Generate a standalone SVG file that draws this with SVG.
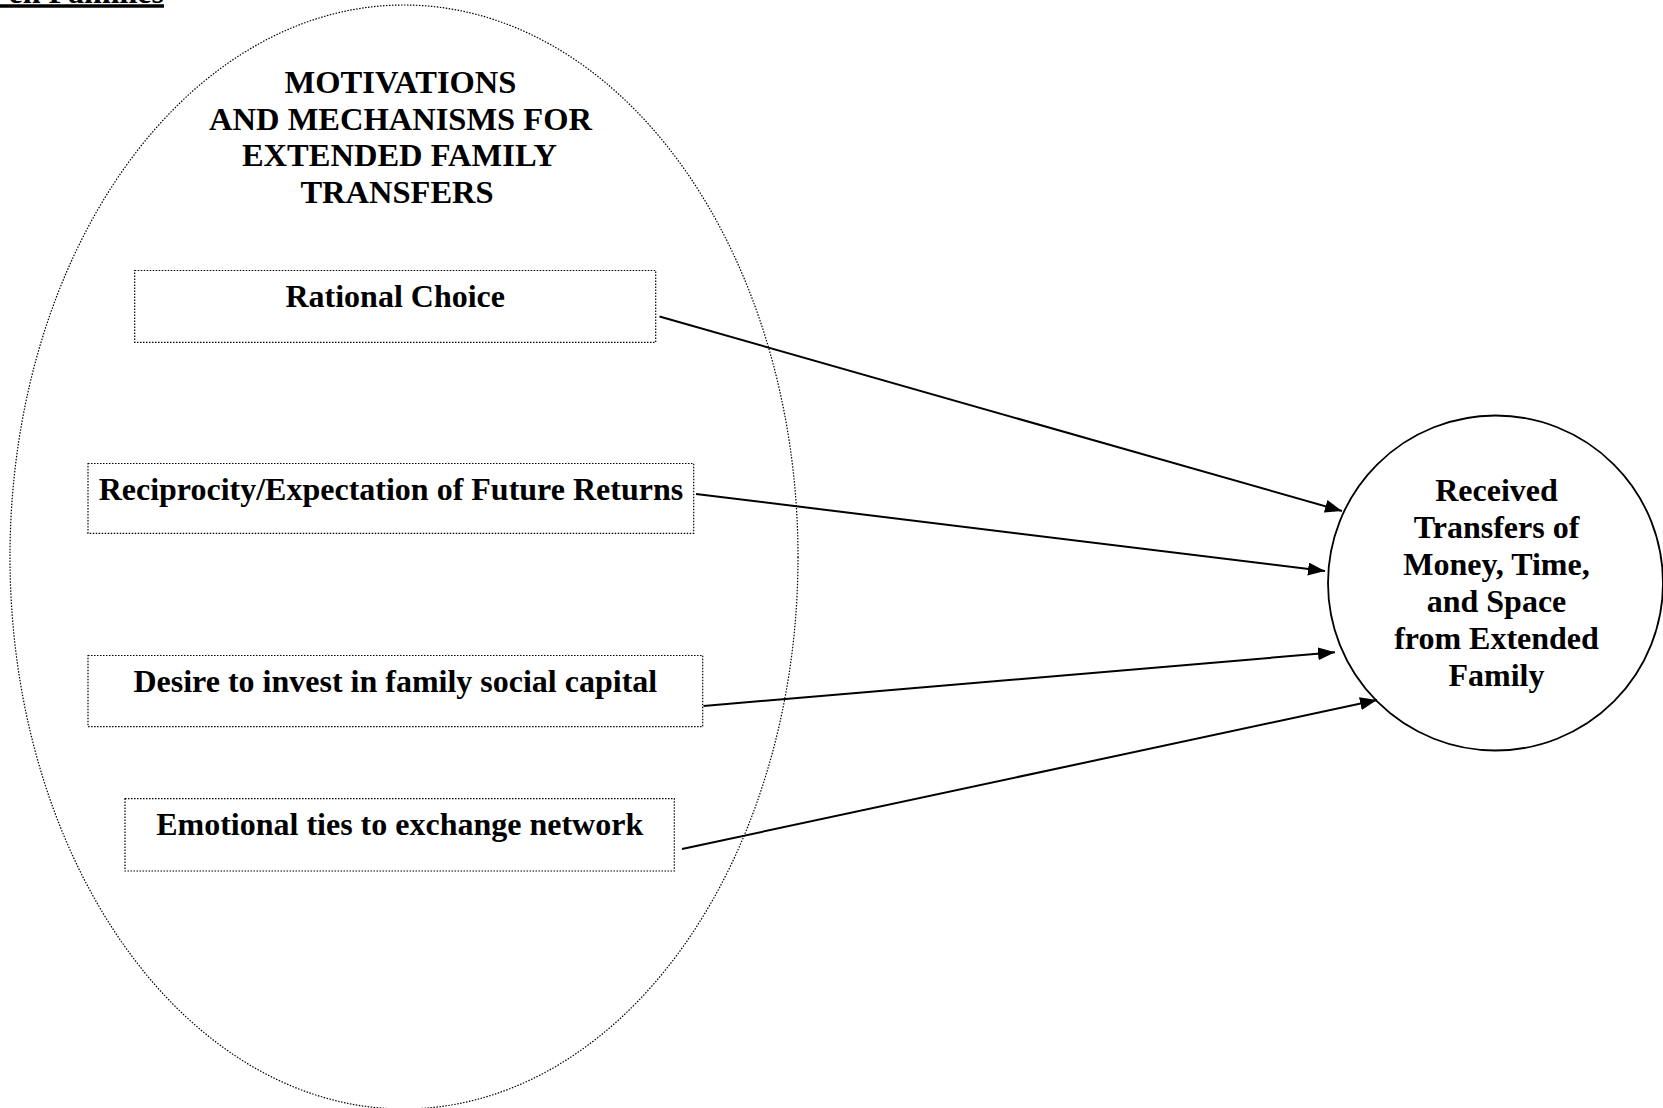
<svg xmlns="http://www.w3.org/2000/svg" width="1663" height="1108" viewBox="0 0 1663 1108">
<style>
  text { font-family: "Liberation Serif", "Times New Roman", serif; font-weight: bold; font-size: 32px; fill: #000; }
  .c { text-anchor: middle; }
  .hd { font-size: 32.5px; }
  .dotted { fill: none; stroke: #000; stroke-width: 1.2; stroke-dasharray: 1.5 1.5; }
  .conn { stroke: #000; stroke-width: 2; fill: none; marker-end: url(#arrow); }
</style>
<defs>
  <marker id="arrow" markerUnits="userSpaceOnUse" markerWidth="18" markerHeight="14" refX="17" refY="6.5" orient="auto">
    <path d="M0,0 L17,6.5 L0,13 Z" fill="#000"/>
  </marker>
</defs>
<rect width="1663" height="1108" fill="#fff"/>

<g id="caption">
  <text x="164" y="3" text-anchor="end">en Families</text>
  <line x1="0" y1="6" x2="164" y2="6" stroke="#000" stroke-width="3.5"/>
</g>

<g id="group-motivations">
  <ellipse class="dotted" cx="404" cy="557" rx="394" ry="552"/>
  <text class="c hd" x="400.5" y="93">MOTIVATIONS</text>
  <text class="c hd" x="400.5" y="129.5">AND MECHANISMS FOR</text>
  <text class="c hd" x="399.5" y="166">EXTENDED FAMILY</text>
  <text class="c hd" x="397" y="202.5">TRANSFERS</text>
</g>

<g id="node-rational">
  <rect class="dotted" x="134.7" y="270.5" width="521" height="71.8"/>
  <text class="c" x="395.2" y="306.5">Rational Choice</text>
</g>

<g id="node-reciprocity">
  <rect class="dotted" x="88" y="463.5" width="605.7" height="69.8"/>
  <text class="c" x="390.9" y="499.5">Reciprocity/Expectation of Future Returns</text>
</g>

<g id="node-desire">
  <rect class="dotted" x="88" y="655.5" width="614.7" height="71.2"/>
  <text class="c" x="395.3" y="691.5">Desire to invest in family social capital</text>
</g>

<g id="node-emotional">
  <rect class="dotted" x="125" y="798.6" width="549.3" height="72.4"/>
  <text class="c" x="399.7" y="834.7">Emotional ties to exchange network</text>
</g>

<g id="node-received">
  <circle cx="1495.5" cy="583" r="167.5" fill="none" stroke="#000" stroke-width="1.8"/>
  <text class="c" x="1496.5" y="500.5">Received</text>
  <text class="c" x="1496.5" y="537.5">Transfers of</text>
  <text class="c" x="1496.5" y="574.5">Money, Time,</text>
  <text class="c" x="1496.5" y="611.5">and Space</text>
  <text class="c" x="1496.5" y="648.5">from Extended</text>
  <text class="c" x="1496.5" y="685.5">Family</text>
</g>

<g id="connectors">
  <line class="conn" x1="659.5" y1="316.5" x2="1342" y2="511"/>
  <line class="conn" x1="696" y1="494" x2="1325" y2="571"/>
  <line class="conn" x1="703.5" y1="706" x2="1335" y2="652.3"/>
  <line class="conn" x1="682" y1="849" x2="1377" y2="700"/>
</g>
</svg>
